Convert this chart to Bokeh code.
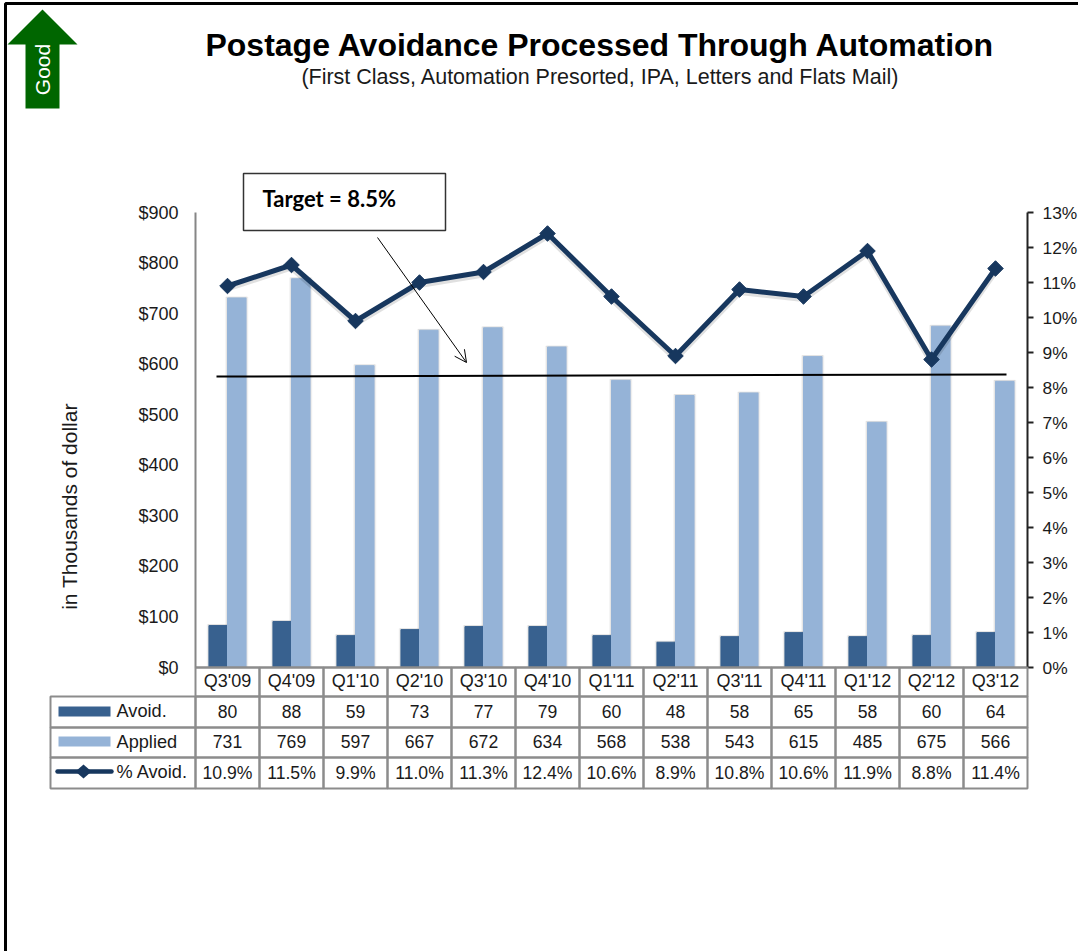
from bokeh.embed import file_html
from bokeh.resources import INLINE
from bokeh.plotting import figure
from bokeh.models import (ColumnDataSource, Range1d, LinearAxis, FixedTicker,
                          PrintfTickFormatter, Label, BoxAnnotation, PolyAnnotation, Arrow, OpenHead)
import math

quarters = ["Q3'09", "Q4'09", "Q1'10", "Q2'10", "Q3'10", "Q4'10", "Q1'11", "Q2'11", "Q3'11", "Q4'11", "Q1'12", "Q2'12", "Q3'12"]
avoid = [80, 88, 59, 73, 77, 79, 60, 48, 58, 65, 58, 60, 64]
avoid_bar = [83, 91, 63, 75, 81, 81, 63, 50, 61, 69, 61, 63, 69]
applied = [731, 769, 597, 667, 672, 634, 568, 538, 543, 615, 485, 675, 566]
pct_avoid = [10.9, 11.5, 9.9, 11.0, 11.3, 12.4, 10.6, 8.9, 10.8, 10.6, 11.9, 8.8, 11.4]
pct_labels = ["10.9%", "11.5%", "9.9%", "11.0%", "11.3%", "12.4%", "10.6%", "8.9%", "10.8%", "10.6%", "11.9%", "8.8%", "11.4%"]
left_ticks = [0, 100, 200, 300, 400, 500, 600, 700, 800, 900]
right_ticks = list(range(0, 14))

TITLE = "Postage Avoidance Processed Through Automation"
SUBTITLE = "(First Class, Automation Presorted, IPA, Letters and Flats Mail)"

DARK, LIGHT, NAVY, GRID = "#38618f", "#95b3d7", "#17375e", "#8c8c8c"
SANS = "Liberation Sans"

W, H = 1078, 951
FL, FR, FT, FB = 195, 1027, 212, 667
CELL = (FR - FL) / len(quarters)
PXY = (FB - FT) / 900
PXP = (FB - FT) / 13

p = figure(width=W, height=H, output_backend="svg", toolbar_location=None,
           x_range=Range1d(-FL / CELL, (W - FL) / CELL),
           y_range=Range1d(-(H - FB) / PXY, FB / PXY),
           min_border=0, min_border_left=0, min_border_right=0, min_border_top=0, min_border_bottom=0,
           x_axis_type=None, y_axis_type=None,
           margin=(0, 0, 0, 0))
p.outline_line_color = None
p.grid.visible = False
p.background_fill_color = "white"
p.border_fill_color = "white"
p.extra_y_ranges = {"pct": Range1d(-(H - FB) / PXP, FB / PXP)}

xc = [i + 0.5 for i in range(len(quarters))]
src = ColumnDataSource(dict(x=xc, xa=[v - 0.145 for v in xc], xb=[v + 0.145 for v in xc],
                            avoid=avoid_bar, applied=applied, pct=pct_avoid,
                            ps=[v - 2 / PXP for v in pct_avoid],
                            tsa=[v + 1 / PXY for v in avoid_bar],
                            tsb=[v + 1 / PXY for v in applied]))


def label(text, x, y, size, **kw):
    p.add_layout(Label(x=x, y=y, x_units="canvas", y_units="canvas", text=text,
                       text_font=kw.pop("font", SANS), text_font_size=f"{size}px",
                       text_color=kw.pop("color", "#1a1a1a"),
                       text_align=kw.pop("align", "center"), text_baseline=kw.pop("baseline", "middle"), **kw))


def box(l, t, r, b, fill=None, line=GRID, lw=2):
    p.add_layout(BoxAnnotation(left=l, right=r, top=t, bottom=b,
                               left_units="canvas", right_units="canvas", top_units="canvas", bottom_units="canvas",
                               fill_color=fill, fill_alpha=1 if fill else 0,
                               line_color=line, line_width=lw, line_alpha=1 if line else 0))


# soft shadows behind the marks
for w_, a_ in ((0.35, 0.03), (0.32, 0.05)):
    p.vbar(x="xa", top="tsa", width=w_, source=src, color="#000000", alpha=a_)
    p.vbar(x="xb", top="tsb", width=w_, source=src, color="#000000", alpha=a_)

# bars and line
p.vbar(x="xa", top="avoid", width=0.29, source=src, color=DARK)
p.vbar(x="xb", top="applied", width=0.29, source=src, color=LIGHT)
p.line(x="x", y="ps", source=src, y_range_name="pct", color="#000000", line_width=7, alpha=0.12)
p.line(x="x", y="pct", source=src, y_range_name="pct", color=NAVY, line_width=5)
p.scatter(x="x", y="pct", source=src, y_range_name="pct", marker="square", angle=math.pi / 4, size=11, color=NAVY)

# axes
yl = LinearAxis(ticker=FixedTicker(ticks=left_ticks), formatter=PrintfTickFormatter(format="$%d"),
                fixed_location=0, bounds=(0, 900))
yl.major_tick_line_color = None
yl.minor_tick_line_color = None
yl.axis_line_color = "#868686"
yl.axis_line_width = 2
yl.major_label_text_font = SANS
yl.major_label_text_font_size = "18px"
yl.major_label_text_color = "#1a1a1a"
yl.major_label_standoff = 11
p.add_layout(yl, "left")
label("in Thousands of dollar", 69, 506, 21, angle=math.pi / 2)

yr = LinearAxis(y_range_name="pct", ticker=FixedTicker(ticks=right_ticks), formatter=PrintfTickFormatter(format="%d%%"),
                fixed_location=len(quarters), bounds=(0, 13))
yr.major_tick_in = 0
yr.major_tick_out = 6
yr.major_tick_line_color = "#222222"
yr.major_tick_line_width = 2
yr.minor_tick_line_color = None
yr.axis_line_color = "#222222"
yr.axis_line_width = 2
yr.major_label_text_font = SANS
yr.major_label_text_font_size = "17.4px"
yr.major_label_text_color = "#1a1a1a"
yr.major_label_standoff = 9
p.add_layout(yr, "right")

xa = LinearAxis(ticker=FixedTicker(ticks=xc), fixed_location=0, bounds=(0, len(quarters)),
                major_label_overrides={v: q for v, q in zip(xc, quarters)})
xa.major_tick_line_color = None
xa.minor_tick_line_color = None
xa.axis_line_color = GRID
xa.axis_line_width = 2
xa.major_label_text_font = SANS
xa.major_label_text_font_size = "18px"
xa.major_label_text_color = "#1a1a1a"
xa.major_label_standoff = -3
p.add_layout(xa, "below")

# table
ROWS = [667, 696, 727, 757, 788]
box(50, ROWS[1], FL, ROWS[2])
box(50, ROWS[2], FL, ROWS[3])
box(50, ROWS[3], FL, ROWS[4])
for i in range(len(quarters)):
    l = FL + i * CELL
    for k in range(4):
        box(l, ROWS[k], l + CELL, ROWS[k + 1])

for i in range(len(quarters)):
    cx = FL + (i + 0.5) * CELL
    label(str(avoid[i]), cx, 711, 17.6)
    label(str(applied[i]), cx, 741, 17.6)
    label(pct_labels[i], cx, 772, 17.6)

box(58, 706, 110, 716, fill=DARK, line=None)
box(58, 736, 110, 746, fill=LIGHT, line=None)
p.add_layout(Arrow(x_start=57, y_start=771, x_end=111, y_end=771, start_units="canvas", end_units="canvas",
                   line_color=NAVY, line_width=4.5, line_cap="round", end=None))
p.add_layout(PolyAnnotation(xs=[83, 91, 83, 75], ys=[764, 771, 778, 771], xs_units="canvas", ys_units="canvas",
                            fill_color=NAVY, fill_alpha=1, line_color=None))
label("Avoid.", 116, 710, 18.2, align="left")
label("Applied", 116, 741, 18.2, align="left")
label("% Avoid.", 116, 771, 18.2, align="left")

# target line, callout
p.add_layout(Arrow(x_start=216, y_start=376, x_end=1006, y_end=374, start_units="canvas", end_units="canvas",
                   line_color="#000000", line_width=2, end=None))
box(243, 173, 445, 230, fill="white", line="#333333", lw=1.5)
label("Target = 8.5%", 262, 198, 22, align="left", font="Lato", text_font_style="bold", color="#000000")
p.add_layout(Arrow(x_start=377, y_start=237, x_end=466, y_end=362, start_units="canvas", end_units="canvas",
                   line_color="#000000", line_width=1,
                   end=OpenHead(size=12, line_color="#000000", line_width=1)))

# titles
label(TITLE, 600, 44, 32, text_font_style="bold", color="#000000")
label(SUBTITLE, 600, 76, 21.5)

# good arrow
p.add_layout(PolyAnnotation(xs=[42, 77, 59, 59, 25, 25, 7], ys=[9, 44, 44, 108, 108, 44, 44],
                            xs_units="canvas", ys_units="canvas", fill_color="#006600", fill_alpha=1, line_color=None))
label("Good", 42, 69, 21, color="white", angle=math.pi / 2)

# page frame
box(5, 3, W + 20, H + 20, line="#000000", lw=3)

open("out.html", "w").write(file_html(p, INLINE))
